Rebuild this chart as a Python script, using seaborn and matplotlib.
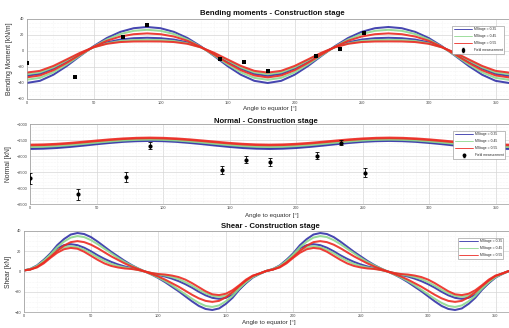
import numpy as np
import pandas as pd
import matplotlib
matplotlib.use("Agg")
import matplotlib.pyplot as plt
import seaborn as sns
from matplotlib.ticker import MultipleLocator
from matplotlib.lines import Line2D

sns.set_style("white")
plt.rcParams["font.family"] = ["Liberation Sans", "DejaVu Sans"]

# ---------------------------------------------------------------- data
STAGES = ["MStage = 0.35", "MStage = 0.45", "MStage = 0.55"]
COLORS = ["#3232a8", "#8ed88e", "#ec2a22"]

ang10 = np.arange(0, 361, 10)   # sample angles of moment / normal force
ang5 = np.arange(0, 361, 5)     # sample angles of shear force

# bending moment [kN/m], two branches per stage
moment_035_a = [-40, -37.3, -29.7, -18.8, -6.2, 5.9, 16.3, 23.9, 28.5, 30, 28.5, 23.9, 16.3, 5.9, -6.2, -18.8, -29.7, -37.3, -40,
                -37.3, -29.7, -18.8, -6.2, 5.9, 16.3, 23.9, 28.5, 30, 28.5, 23.9, 16.3, 5.9, -6.2, -18.8, -29.7, -37.3, -40]
moment_045_a = [-36, -33.6, -26.7, -16.8, -5.6, 5.3, 14.4, 21.2, 25.2, 26.5, 25.2, 21.2, 14.4, 5.3, -5.6, -16.8, -26.7, -33.6, -36,
                -33.6, -26.7, -16.8, -5.6, 5.3, 14.4, 21.2, 25.2, 26.5, 25.2, 21.2, 14.4, 5.3, -5.6, -16.8, -26.7, -33.6, -36]
moment_055_a = [-33, -30.6, -24.1, -14.8, -4.5, 5.1, 12.8, 18.1, 21.0, 22.0, 21.0, 18.1, 12.8, 5.1, -4.5, -14.8, -24.1, -30.6, -33,
                -30.6, -24.1, -14.8, -4.5, 5.1, 12.8, 18.1, 21.0, 22.0, 21.0, 18.1, 12.8, 5.1, -4.5, -14.8, -24.1, -30.6, -33]
moment_035_b = [-31, -28.6, -22.0, -12.9, -3.4, 4.9, 10.8, 14.3, 16.0, 16.5, 16.0, 14.3, 10.8, 4.9, -3.4, -12.9, -22.0, -28.6, -31,
                -28.6, -22.0, -12.9, -3.4, 4.9, 10.8, 14.3, 16.0, 16.5, 16.0, 14.3, 10.8, 4.9, -3.4, -12.9, -22.0, -28.6, -31]
moment_045_b = [-29, -26.7, -20.5, -11.9, -3.0, 4.5, 9.6, 12.5, 13.7, 14.0, 13.7, 12.5, 9.6, 4.5, -3.0, -11.9, -20.5, -26.7, -29,
                -26.7, -20.5, -11.9, -3.0, 4.5, 9.6, 12.5, 13.7, 14.0, 13.7, 12.5, 9.6, 4.5, -3.0, -11.9, -20.5, -26.7, -29]
moment_055_b = [-27, -24.8, -18.7, -10.5, -2.2, 4.6, 9.0, 11.2, 11.9, 12.0, 11.9, 11.2, 9.0, 4.6, -2.2, -10.5, -18.7, -24.8, -27,
                -24.8, -18.7, -10.5, -2.2, 4.6, 9.0, 11.2, 11.9, 12.0, 11.9, 11.2, 9.0, 4.6, -2.2, -10.5, -18.7, -24.8, -27]

# normal force [kN]
normal_035_a = [-1755, -1747, -1726, -1693, -1652, -1608, -1568, -1534, -1513, -1505, -1513, -1534, -1568, -1608, -1652, -1693, -1726, -1747, -1755,
                -1747, -1726, -1693, -1652, -1608, -1568, -1534, -1513, -1505, -1513, -1534, -1568, -1608, -1652, -1693, -1726, -1747, -1755]
normal_035_b = [-1785, -1777, -1756, -1723, -1682, -1638, -1598, -1564, -1543, -1535, -1543, -1564, -1598, -1638, -1682, -1723, -1756, -1777, -1785,
                -1777, -1756, -1723, -1682, -1638, -1598, -1564, -1543, -1535, -1543, -1564, -1598, -1638, -1682, -1723, -1756, -1777, -1785]
normal_045_a = [-1700, -1693, -1673, -1643, -1605, -1565, -1528, -1497, -1477, -1470, -1477, -1497, -1528, -1565, -1605, -1643, -1673, -1693, -1700,
                -1693, -1673, -1643, -1605, -1565, -1528, -1497, -1477, -1470, -1477, -1497, -1528, -1565, -1605, -1643, -1673, -1693, -1700]
normal_045_b = [-1725, -1718, -1698, -1668, -1630, -1590, -1553, -1522, -1502, -1495, -1502, -1522, -1553, -1590, -1630, -1668, -1698, -1718, -1725,
                -1718, -1698, -1668, -1630, -1590, -1553, -1522, -1502, -1495, -1502, -1522, -1553, -1590, -1630, -1668, -1698, -1718, -1725]
normal_055_a = [-1640, -1633, -1614, -1585, -1549, -1511, -1475, -1446, -1427, -1420, -1427, -1446, -1475, -1511, -1549, -1585, -1614, -1633, -1640,
                -1633, -1614, -1585, -1549, -1511, -1475, -1446, -1427, -1420, -1427, -1446, -1475, -1511, -1549, -1585, -1614, -1633, -1640]
normal_055_b = [-1670, -1663, -1644, -1615, -1579, -1541, -1505, -1476, -1457, -1450, -1457, -1476, -1505, -1541, -1579, -1615, -1644, -1663, -1670,
                -1663, -1644, -1615, -1579, -1541, -1505, -1476, -1457, -1450, -1457, -1476, -1505, -1541, -1579, -1615, -1644, -1663, -1670]

# shear force [kN]
shear_035_a = [1, 2, 5, 11, 18, 26, 32, 36.5, 38, 37, 34, 29.5, 24.5, 19.5, 15, 10.5, 6.5, 3, 0,
               -3, -6.5, -10.5, -15, -19.5, -24.5, -29.5, -34, -37, -38, -36.5, -32, -26, -18, -11, -5, -2, 0.5,
               2, 5, 11, 18, 26, 32, 36.5, 38, 37, 34, 29.5, 24.5, 19.5, 15, 10.5, 6.5, 3, 0,
               -3, -6.5, -10.5, -15, -19.5, -24.5, -29.5, -34, -37, -38, -36.5, -32, -26, -18, -11, -5, -2, 0.5]
shear_045_a = [1, 2, 5, 10.5, 17, 24, 29.5, 33.5, 35, 34, 31, 27, 22.5, 18, 13.5, 9.5, 6, 3, 0,
               -3, -6, -9.5, -13.5, -18, -22.5, -27, -31, -34, -35, -33.5, -29.5, -24, -17, -10.5, -5, -2, 0.5,
               2, 5, 10.5, 17, 24, 29.5, 33.5, 35, 34, 31, 27, 22.5, 18, 13.5, 9.5, 6, 3, 0,
               -3, -6, -9.5, -13.5, -18, -22.5, -27, -31, -34, -35, -33.5, -29.5, -24, -17, -10.5, -5, -2, 0.5]
shear_055_a = [1, 2, 4.5, 9, 14.5, 20.5, 25.5, 29, 30, 29, 26.5, 23, 19, 15, 11.5, 8, 5, 2.5, 0,
               -2.5, -5, -8, -11.5, -15, -19, -23, -26.5, -29, -30, -29, -25.5, -20.5, -14.5, -9, -4.5, -2, 0.5,
               2, 4.5, 9, 14.5, 20.5, 25.5, 29, 30, 29, 26.5, 23, 19, 15, 11.5, 8, 5, 2.5, 0,
               -2.5, -5, -8, -11.5, -15, -19, -23, -26.5, -29, -30, -29, -25.5, -20.5, -14.5, -9, -4.5, -2, 0.5]
shear_035_b = [1, 2.5, 6, 11.5, 17.5, 23, 26, 27, 26, 23.5, 20, 16, 12.5, 9.5, 7, 5, 3.5, 1.8, 0,
               -1.8, -3.5, -5, -7, -9.5, -12.5, -16, -20, -23.5, -26, -27, -26, -23, -17.5, -11.5, -6, -2.5, 0.5,
               2.5, 6, 11.5, 17.5, 23, 26, 27, 26, 23.5, 20, 16, 12.5, 9.5, 7, 5, 3.5, 1.8, 0,
               -1.8, -3.5, -5, -7, -9.5, -12.5, -16, -20, -23.5, -26, -27, -26, -23, -17.5, -11.5, -6, -2.5, 0.5]
shear_045_b = [1, 2.5, 5.5, 10.5, 16, 21, 24, 25, 24, 21.5, 18, 14, 10.5, 7.5, 5.5, 4, 3, 1.5, 0,
               -1.5, -3, -4, -5.5, -7.5, -10.5, -14, -18, -21.5, -24, -25, -24, -21, -16, -10.5, -5.5, -2.5, 0.5,
               2.5, 5.5, 10.5, 16, 21, 24, 25, 24, 21.5, 18, 14, 10.5, 7.5, 5.5, 4, 3, 1.5, 0,
               -1.5, -3, -4, -5.5, -7.5, -10.5, -14, -18, -21.5, -24, -25, -24, -21, -16, -10.5, -5.5, -2.5, 0.5]
shear_055_b = [1, 2, 4, 8, 13.5, 18.5, 22, 23.3, 22.5, 19.5, 15.5, 11.5, 8, 5.5, 4, 3, 2.5, 1.5, 0,
               -1.5, -2.5, -3, -4, -5.5, -8, -11.5, -15.5, -19.5, -22.5, -23.3, -22, -18.5, -13.5, -8, -4, -2, 0.5,
               2, 4, 8, 13.5, 18.5, 22, 23.3, 22.5, 19.5, 15.5, 11.5, 8, 5.5, 4, 3, 2.5, 1.5, 0,
               -1.5, -2.5, -3, -4, -5.5, -8, -11.5, -15.5, -19.5, -22.5, -23.3, -22, -18.5, -13.5, -8, -4, -2, 0.5]

# field measurements
meas_angle = [0, 36, 72, 90, 144, 162, 180, 216, 234, 252]
meas_moment = [-15, -33, 18, 32, -10, -14, -25, -6, 3, 22]
meas_normal = [-2700, -3190, -2660, -1680, -2440, -2120, -2180, -1990, -1580, -2520]
meas_normal_err = [160, 170, 150, 110, 130, 110, 120, 110, 90, 150]


def long_frame(angles, curves):
    rows = []
    for stage, branches in zip(STAGES, curves):
        for k, vals in enumerate(branches):
            rows.append(pd.DataFrame({"angle": angles, "value": vals,
                                      "stage": stage, "branch": f"{stage}-{k}"}))
    return pd.concat(rows, ignore_index=True)


moment_df = long_frame(ang10, [[moment_035_a, moment_035_b],
                               [moment_045_a, moment_045_b],
                               [moment_055_a, moment_055_b]])
normal_df = long_frame(ang10, [[normal_035_a, normal_035_b],
                               [normal_045_a, normal_045_b],
                               [normal_055_a, normal_055_b]])
shear_df = long_frame(ang5, [[shear_035_a, shear_035_b],
                             [shear_045_a, shear_045_b],
                             [shear_055_a, shear_055_b]])

# ---------------------------------------------------------------- layout
W, H = 510, 328
fig = plt.figure(figsize=(W / 100, H / 100), dpi=100)


def box(left, right, top, bottom):
    return [left / W, 1 - bottom / H, (right - left) / W, (bottom - top) / H]


ax1 = fig.add_axes(box(26.5, 509, 19, 99))
ax2 = fig.add_axes(box(30, 509, 124, 204))
ax3 = fig.add_axes(box(23.5, 509, 231, 312))

palette = dict(zip(STAGES, COLORS))

for ax, df, lw in [(ax1, moment_df, 1.45), (ax2, normal_df, 1.2), (ax3, shear_df, 1.45)]:
    sns.lineplot(data=df, x="angle", y="value", hue="stage", units="branch",
                 estimator=None, palette=palette, linewidth=lw, alpha=0.9,
                 legend=False, ax=ax, sort=False)

# measured points
sns.scatterplot(x=meas_angle, y=meas_moment, marker="s", color="black",
                s=9, linewidth=0, ax=ax1, zorder=5)
sns.scatterplot(x=meas_angle, y=meas_normal, marker="o", color="black",
                s=9, linewidth=0, ax=ax2, zorder=5)
ax2.errorbar(meas_angle, meas_normal, yerr=meas_normal_err, fmt="none",
             ecolor="black", elinewidth=0.6, capsize=1.3, capthick=0.6, zorder=5)

# ---------------------------------------------------------------- styling
specs = [
    (ax1, (-60, 40), 20, 5, "Bending Moment [kN/m]", "Bending moments - Construction stage",
     0.509, 2.7, -0.028, -0.12),
    (ax2, (-3500, -1000), 500, 100, "Normal [kN]", "Normal - Construction stage",
     0.4927, 0.9, -0.038, -0.14),
    (ax3, (-40, 40), 20, 5, "Shear [kN]", "Shear - Construction stage",
     0.5077, 2.3, -0.024, -0.135),
]
for ax, ylim, ymaj, ymin, ylab, title, tx, tpad, ylx, xly in specs:
    ax.set_xlim(0, 360)
    ax.set_ylim(*ylim)
    ax.xaxis.set_major_locator(MultipleLocator(50))
    ax.xaxis.set_minor_locator(MultipleLocator(10))
    ax.yaxis.set_major_locator(MultipleLocator(ymaj))
    ax.yaxis.set_minor_locator(MultipleLocator(ymin))
    ax.grid(which="major", color="#d6d6d6", linewidth=0.5)
    ax.grid(which="minor", color="#ececec", linewidth=0.4, linestyle=":")
    ax.set_axisbelow(True)
    ax.tick_params(which="major", labelsize=2.8, length=1.5, width=0.4,
                   direction="in", pad=1.6, colors="#555555", labelcolor="#444444")
    ax.tick_params(which="minor", length=0)
    for sp in ax.spines.values():
        sp.set_color("#9a9a9a")
        sp.set_linewidth(0.5)
    ax.set_title(title, fontsize=5.6, fontweight="bold", x=tx, pad=tpad, color="#111111")
    ax.set_ylabel(ylab, fontsize=4.9, color="#333333")
    ax.yaxis.set_label_coords(ylx, 0.5)
    ax.set_xlabel("Angle to equator [°]", fontsize=4.5, color="#333333")
    ax.xaxis.set_label_coords(0.505, xly)
    ax.xaxis.label.set_va("center")

# ---------------------------------------------------------------- legends
stage_handles = [Line2D([], [], color=c, lw=0.6) for c in COLORS]
meas_handle = ax1.errorbar([np.nan], [np.nan], yerr=[1], fmt="s", color="black",
                           ms=1.8, elinewidth=0.6, capsize=1.0)
meas_handle2 = ax2.errorbar([np.nan], [np.nan], yerr=[1], fmt="o", color="black",
                            ms=1.8, elinewidth=0.6, capsize=1.0)

legend_kw = dict(loc="upper right", fontsize=2.4, frameon=True, fancybox=False,
                 edgecolor="#8a8a8a", framealpha=1, handlelength=5.5,
                 handletextpad=0.6, borderpad=0.5, labelspacing=0.9)

for ax, handles, labels, anchor in [
    (ax1, stage_handles + [meas_handle], STAGES + ["Field measurement"], (0.994, 0.9375)),
    (ax2, stage_handles + [meas_handle2], STAGES + ["Field measurement"], (0.996, 0.9375)),
    (ax3, stage_handles, STAGES, (0.992, 0.938)),
]:
    leg = ax.legend(handles, labels, bbox_to_anchor=anchor, **legend_kw)
    leg.get_frame().set_linewidth(0.4)

fig.savefig("out.png", dpi=100, facecolor="white")
